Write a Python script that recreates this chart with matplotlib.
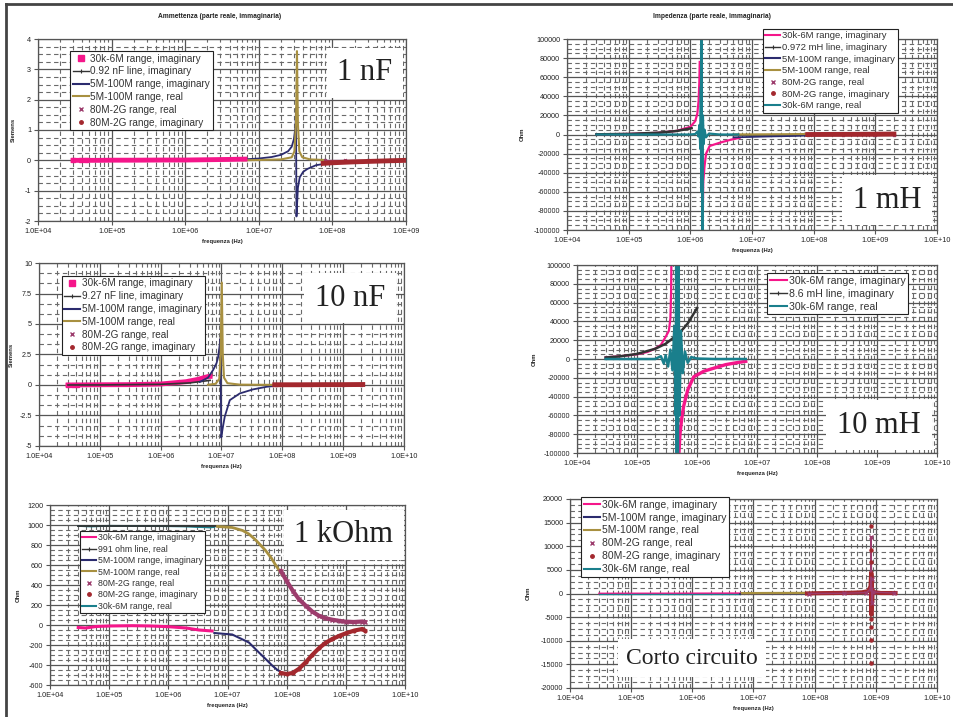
import matplotlib.pyplot as plt
from matplotlib.lines import Line2D
from matplotlib.ticker import FixedLocator, NullFormatter

# --- colori delle serie
PINK = '#F5168A'
NAVY = '#2B2B6E'
OLIVE = '#A89040'
DRED = '#A3282E'
PURPLE = '#9C3C6C'
TEAL = '#1A7F8C'
DARK = '#333333'

# --- etichette degli assi
xlab_9 = ['1.0E+04', '1.0E+05', '1.0E+06', '1.0E+07', '1.0E+08', '1.0E+09']
xlab_10 = xlab_9 + ['1.0E+10']
yt_1nF = [-2, -1, 0, 1, 2, 3, 4]
yt_10nF = [-5, -2.5, 0, 2.5, 5, 7.5, 10]
yl_10nF = ['-5', '-2.5', '0', '2.5', '5', '7.5', '10']
yt_mH = [-100000, -80000, -60000, -40000, -20000, 0, 20000, 40000, 60000, 80000, 100000]
yt_kohm = [-600, -400, -200, 0, 200, 400, 600, 800, 1000, 1200]
yt_short = [-20000, -15000, -10000, -5000, 0, 5000, 10000, 15000, 20000]

# --- 1 nF (Siemens)
f1_pink = [3e4, 3.8e4, 4.5e4, 5.5e4, 7e4, 1e5, 2e5, 5e5, 1e6, 2e6, 4e6, 6.5e6]
y1_pink = [0, 0, 0, 0, 0, 0.005, 0.005, 0.01, 0.01, 0.02, 0.03, 0.04]
f1_line = [3e4, 1e5, 1e6, 3e6, 6e6]
y1_line = [0.0002, 0.0006, 0.006, 0.017, 0.035]
f1_navy = [3.7e6, 6e6, 1e7, 1.5e7, 2e7, 2.5e7, 2.8e7, 3.0e7, 3.15e7, 3.2e7, 3.25e7, 3.4e7, 3.6e7, 4e7, 4.6e7, 6e7, 8e7]
y1_navy = [0.01, 0.03, 0.06, 0.11, 0.18, 0.3, 0.45, 0.7, 1.1, 1.7, -1.85, -0.9, -0.56, -0.38, -0.28, -0.16, -0.11]
f1_olive = [6e6, 1e7, 2e7, 2.8e7, 3.05e7, 3.2e7, 3.3e7, 3.4e7, 3.55e7, 3.9e7, 5e7, 8e7]
y1_olive = [0.0, 0.01, 0.03, 0.1, 0.3, 1.2, 3.6, 1.2, 0.3, 0.1, 0.03, 0.01]
f1_real = [8e7, 1.5e8, 3e8, 6e8, 1e9]
y1_real = [0.0, 0.0, 0.0, 0.0, 0.0]
f1_dred = [7.5e7, 1e8, 2e8, 5e8, 1e9, 2e9]
y1_dred = [-0.1, -0.08, -0.05, -0.02, 0.0, 0.01]

# --- 1 mH (Ohm)
f2_pink_a = [3e4, 1e5, 3e5, 6e5, 1e6, 1.2e6, 1.3e6, 1.36e6, 1.4e6, 1.42e6]
y2_pink_a = [200, 600, 1800, 3800, 8000, 14000, 22000, 35000, 55000, 76000]
f2_pink_b = [1.57e6, 1.62e6, 1.7e6, 1.8e6, 2.06e6, 3e6, 4.5e6, 6.3e6]
y2_pink_b = [-110000, -50000, -33000, -20000, -12000, -8600, -5500, -3500]
f2_line = [3e4, 1e5, 3e5, 6e5, 1.05e6]
y2_line = [180, 610, 1830, 3660, 6600]
f2_teal = [3e4, 1e6, 1.2e6, 1.3e6, 1.35e6, 1.4e6, 1.45e6, 1.48e6, 1.5e6, 1.52e6, 1.55e6, 1.57e6, 1.6e6, 1.65e6, 1.7e6, 1.8e6, 2e6, 3e6, 6e6]
y2_teal = [0, 0, 500, 3000, -2000, 10000, -15000, 50000, -60000, 110000, -50000, -110000, 20000, -10000, 5000, -3000, 1000, 0, 0]
f2_navy = [5e6, 1e7, 2e7, 5e7, 8e7]
y2_navy = [-3000, -2500, -2000, -1500, -1000]
f2_olive = [5e6, 1e7, 3e7, 8e7]
y2_olive = [100, 150, 300, 500]
f2_real = [8e7, 3e8, 1e9, 2e9]
y2_real = [0, 0, 0, 0]
f2_dred = [8e7, 2e8, 5e8, 1e9, 2e9]
y2_dred = [0, 100, 200, 300, 500]

# --- 10 nF (Siemens)
f3_pink = [3e4, 3.6e4, 4.2e4, 5e4, 1e5, 3e5, 1e6, 2.6e6, 4e6, 6e6, 6.5e6]
y3_pink = [0, 0, 0, 0.01, 0.02, 0.03, 0.08, 0.27, 0.45, 0.69, 0.7]
f3_line = [3e4, 1e5, 1e6, 3e6, 6.5e6]
y3_line = [0.002, 0.006, 0.058, 0.17, 0.38]
f3_navy = [4.4e6, 6e6, 7.3e6, 8.3e6, 8.8e6, 9.2e6, 9.6e6, 9.9e6, 1.05e7, 1.13e7, 1.37e7, 2e7, 3.3e7, 5.6e7, 9e7]
y3_navy = [0.25, 0.6, 1.24, 1.8, 2.3, 3.0, 3.8, -4.3, -3.5, -2.6, -1.24, -0.69, -0.36, -0.14, -0.05]
f3_olive = [6e6, 8e6, 9.2e6, 9.7e6, 1.01e7, 1.05e7, 1.1e7, 1.25e7, 2e7, 8e7]
y3_olive = [0.02, 0.1, 0.5, 2.5, 8.4, 2.5, 0.6, 0.15, 0.03, 0.01]
f3_real = [8e7, 3e8, 1e9, 2e9]
y3_real = [0, 0, 0, 0]
f3_dred = [7.5e7, 2e8, 5e8, 1e9, 2.1e9]
y3_dred = [0.02, 0.02, 0.03, 0.03, 0.04]

# --- 10 mH (Ohm)
f4_pink_a = [3e4, 5e4, 1e5, 1.5e5, 2e5, 2.5e5, 3e5, 3.4e5, 3.6e5, 3.7e5, 3.75e5]
y4_pink_a = [1800, 2800, 5000, 7500, 11000, 15000, 23500, 30000, 43000, 70000, 110000]
f4_pink_b = [4.9e5, 5.2e5, 5.6e5, 6e5, 7e5, 8.8e5, 1.3e6, 1.9e6, 3e6, 4.5e6, 6.5e6]
y4_pink_b = [-110000, -80000, -62000, -50000, -33000, -19000, -13000, -9800, -6000, -4000, -2500]
f4_line = [3e4, 5e4, 1e5, 2e5, 3e5, 5e5, 7e5, 1e6]
y4_line = [1600, 2700, 5400, 10800, 16200, 27000, 37800, 54000]
f4_teal = [3e4, 2e5, 2.5e5, 2.8e5, 3e5, 3.3e5, 3.6e5, 3.9e5, 4.2e5, 4.4e5, 4.5e5, 4.6e5, 4.7e5, 4.8e5,
           4.9e5, 5.1e5, 5.4e5, 5.8e5, 6.3e5, 7e5, 8e5, 1e6, 2e6, 6.5e6]
y4_teal = [0, 0, 3000, -5000, 4000, -8000, 10000, -12000, 35000, -60000, 120000, -120000, 120000, -120000,
           120000, -60000, 30000, -15000, 8000, -4000, 2000, 500, 0, 0]

# --- 1 kOhm (Ohm)
f5_pink = [3e4, 4e4, 6e4, 1e5, 2.5e5, 5e5, 1e6, 2e6, 3.3e6, 5.5e6]
y5_pink = [-25, -30, -15, -10, -7, -10, -17, -30, -50, -60]
f5_line = [3e4, 6.5e6]
y5_line = [991, 991]
f5_navy = [6e6, 1.2e7, 2.3e7, 3.4e7, 4.5e7, 5.8e7, 7e7, 8.6e7, 1e8]
y5_navy = [-80, -95, -175, -275, -345, -410, -450, -480, -490]
f5_olive = [6.8e6, 1.2e7, 1.8e7, 2.3e7, 3e7, 4.4e7, 5.5e7, 6.5e7, 7.5e7, 8.5e7]
y5_olive = [985, 975, 945, 910, 850, 745, 670, 600, 545, 500]
f5_real = [8e7, 1e8, 1.26e8, 1.6e8, 2.1e8, 2.7e8, 3.5e8, 4.5e8, 5.9e8, 8e8, 1e9, 1.4e9, 1.9e9, 2.1e9]
y5_real = [540, 440, 345, 260, 193, 135, 93, 68, 53, 40, 33, 30, 35, 30]
f5_dred = [8e7, 1e8, 1.26e8, 1.6e8, 2.1e8, 2.7e8, 3.5e8, 4.5e8, 5.9e8, 8e8, 1e9, 1.4e9, 1.9e9, 2.1e9]
y5_dred = [-480, -490, -480, -440, -373, -300, -233, -180, -140, -105, -83, -55, -40, -55]
f5_teal = [3e4, 5e4, 1e5, 3e5, 1e6, 2e6, 3e6, 4e6, 5e6, 6e6]
y5_teal = [990, 985, 992, 990, 988, 985, 980, 978, 975, 980]

# --- Corto circuito (Ohm)
f6_pink = [3e4, 1e6, 6e6]
y6_pink = [0, 20, 50]
f6_navy = [6e6, 2e7, 8e7]
y6_navy = [0, 0, 0]
f6_olive = [6.5e6, 2e7, 8e7]
y6_olive = [50, 80, 100]
f6_real = [8e7, 3e8, 7e8, 8.2e8, 8.4e8, 8.5e8, 8.6e8, 9e8, 2e9]
y6_real = [0, 50, 200, 1000, 12000, 3000, -2000, 300, 100]
f6_dred = [7.5e7, 1e8, 2e8, 4e8, 6e8, 7.5e8, 8.2e8, 8.4e8, 8.45e8, 8.5e8, 8.55e8, 8.6e8, 8.7e8, 8.8e8, 9.2e8, 1.2e9, 2.1e9]
y6_dred = [0, 50, 100, 150, 250, 500, 1500, 4500, -4500, 3500, -3000, 2000, -1500, 800, 300, 100, 100]
f6_dots = [8.45e8, 8.45e8, 8.45e8, 8.45e8, 8.45e8, 8.45e8, 8.45e8, 8.45e8]
y6_dots = [14300, 9200, 6600, 4200, -5400, -7000, -9800, -14700]
f6_teal = [3e4, 1e6, 6e6]
y6_teal = [0, 0, 0]

W, H = 954, 717
plt.rcParams['font.family'] = ['Liberation Sans', 'DejaVu Sans']
fig = plt.figure(figsize=(W / 100, H / 100), dpi=100)


def pax(l, t, r, b):
    return fig.add_axes([l / W, 1 - b / H, (r - l) / W, (b - t) / H])


def setup(ax, box, xlabels, yticks, ylabels, ylabel, ylab_x, sub=4):
    l, t, r, b = box
    n = len(xlabels)
    dec = [10.0 ** (4 + i) for i in range(n)]
    ax.set_xscale('log')
    ax.set_xlim(dec[0], dec[-1])
    ax.set_ylim(yticks[0], yticks[-1])
    ax.xaxis.set_major_locator(FixedLocator(dec))
    ax.set_xticklabels(xlabels)
    ax.xaxis.set_minor_locator(FixedLocator([d * k for d in dec[:-1] for k in range(2, 10)]))
    ax.xaxis.set_minor_formatter(NullFormatter())
    ax.set_yticks(yticks)
    ax.set_yticklabels(ylabels if ylabels else [str(v) for v in yticks])
    step = (yticks[1] - yticks[0]) / sub
    ax.yaxis.set_minor_locator(FixedLocator([yticks[0] + step * i for i in range(sub * (len(yticks) - 1))]))
    ax.grid(which='major', color='#555555', lw=0.9)
    ax.grid(which='minor', color='#6a6a6a', lw=0.8, ls=(0, (4, 3)))
    ax.set_axisbelow(True)
    for s in ax.spines.values():
        s.set_color('#555555')
        s.set_linewidth(0.9)
    ax.tick_params(which='major', direction='out', length=3, color='#555555', labelsize=5.2, pad=2, labelcolor='#222222')
    ax.tick_params(which='minor', length=0)
    ax.set_xlabel('frequenza (Hz)', fontsize=4.2, fontweight='bold', labelpad=3, color='#222222')
    ax.set_ylabel(ylabel, fontsize=4.2, fontweight='bold', color='#222222')
    ax.yaxis.set_label_coords(-(l - ylab_x) / (r - l), 0.5)


def mark_text(x, y, s, size=22):
    fig.text(x / W, 1 - y / H, s, fontsize=size, family=['Liberation Serif', 'DejaVu Serif'],
             ha='center', va='center', color='#222222', zorder=5,
             bbox=dict(boxstyle='square,pad=0.35', fc='white', ec='none'))


# legend handles
def h_pink_sq():
    return Line2D([], [], color=PINK, marker='s', ms=4, ls='none')


def h_line(c):
    return Line2D([], [], color=c, lw=1.5)


def h_dark():
    return Line2D([], [], color=DARK, lw=1, marker='+', ms=3, mew=0.8)


def h_x():
    return Line2D([], [], color=PURPLE, marker='x', ms=3, mew=1, ls='none')


def h_dot():
    return Line2D([], [], color=DRED, marker='o', ms=2.5, ls='none')


def legend(ax, handles, labels, l, t, size):
    lg = ax.legend(handles, labels, loc='upper left', bbox_to_anchor=(l / W, 1 - t / H),
                   bbox_transform=fig.transFigure, fontsize=size, frameon=True, fancybox=False,
                   edgecolor='#222222', framealpha=1, borderpad=0.25, labelspacing=0.28,
                   handlelength=1.6, handletextpad=0.2, borderaxespad=0)
    lg.get_frame().set_linewidth(0.8)
    lg.set_zorder(10)
    for txt in lg.get_texts():
        txt.set_color('#333333')


# ---------- pannello 1: 1 nF
b1 = (38, 39, 406, 221)
ax1 = pax(*b1)
setup(ax1, b1, xlab_9, yt_1nF, None, 'Siemens', 16)
ax1.plot(f1_line, y1_line, color=DARK, lw=1.2)
ax1.plot(f1_navy, y1_navy, color=NAVY, lw=1.3)
ax1.plot(f1_olive, y1_olive, color=OLIVE, lw=1.5)
ax1.plot(f1_pink, y1_pink, color=PINK, lw=3.5, marker='s', ms=3.5, markevery=[0, 1, 2])
ax1.plot(f1_real, y1_real, color=PURPLE, lw=1, marker='x', ms=2)
ax1.plot(f1_dred, y1_dred, color=DRED, lw=3.5)
fig.text(220 / W, 1 - 17 / H, 'Ammettenza (parte reale, immaginaria)', fontsize=4.8, fontweight='bold',
         ha='center', va='center', color='#222222')
legend(ax1, [h_pink_sq(), h_dark(), h_line(NAVY), h_line(OLIVE), h_x(), h_dot()],
       ['30k-6M range, imaginary', '0.92 nF line, imaginary', '5M-100M range, imaginary',
        '5M-100M range, real', '80M-2G range, real', '80M-2G range, imaginary'], 70, 51, 7.2)
mark_text(365, 73, '1 nF')

# ---------- pannello 2: 1 mH
b2 = (567, 39, 937, 230)
ax2 = pax(*b2)
setup(ax2, b2, xlab_10, yt_mH, None, 'Ohm', 525)
ax2.plot(f2_pink_a, y2_pink_a, color=PINK, lw=1.6)
ax2.plot(f2_pink_b, y2_pink_b, color=PINK, lw=1.6)
ax2.plot(f2_line, y2_line, color=DARK, lw=1.8)
ax2.plot(f2_navy, y2_navy, color=NAVY, lw=1.3)
ax2.plot(f2_olive, y2_olive, color=OLIVE, lw=1.5)
ax2.plot(f2_real, y2_real, color=PURPLE, lw=1, marker='x', ms=2)
ax2.plot(f2_dred, y2_dred, color=DRED, lw=3.5)
ax2.plot(f2_teal, y2_teal, color=TEAL, lw=1.6)
fig.text(712 / W, 1 - 16 / H, 'Impedenza (parte reale, immaginaria)', fontsize=4.8, fontweight='bold',
         ha='center', va='center', color='#222222')
legend(ax2, [h_line(PINK), h_dark(), h_line(NAVY), h_line(OLIVE), h_x(), h_dot(), h_line(TEAL)],
       ['30k-6M range, imaginary', '0.972 mH line, imaginary', '5M-100M range, imaginary',
        '5M-100M range, real', '80M-2G range, real', '80M-2G range, imaginary', '30k-6M range, real'],
       763, 29, 6.8)
mark_text(887, 200, '1 mH')

# ---------- pannello 3: 10 nF
b3 = (39, 263, 404, 446)
ax3 = pax(*b3)
setup(ax3, b3, xlab_10, yt_10nF, yl_10nF, 'Siemens', 14, sub=3)
ax3.plot(f3_pink, y3_pink, color=PINK, lw=3.5, marker='s', ms=3.5, markevery=[0, 1, 2])
ax3.plot(f3_line, y3_line, color=DARK, lw=1.2)
ax3.plot(f3_navy, y3_navy, color=NAVY, lw=1.3)
ax3.plot(f3_olive, y3_olive, color=OLIVE, lw=1.5)
ax3.plot(f3_real, y3_real, color=PURPLE, lw=1, marker='x', ms=2)
ax3.plot(f3_dred, y3_dred, color=DRED, lw=3.5)
legend(ax3, [h_pink_sq(), h_dark(), h_line(NAVY), h_line(OLIVE), h_x(), h_dot()],
       ['30k-6M range, imaginary', '9.27 nF line, imaginary', '5M-100M range, imaginary',
        '5M-100M range, real', '80M-2G range, real', '80M-2G range, imaginary'], 62, 276, 7.2)
mark_text(350, 298, '10 nF')

# ---------- pannello 4: 10 mH
b4 = (577, 265, 937, 453)
ax4 = pax(*b4)
setup(ax4, b4, xlab_10, yt_mH, None, 'Ohm', 537)
ax4.plot(f4_pink_a, y4_pink_a, color=PINK, lw=1.6)
ax4.plot(f4_pink_b, y4_pink_b, color=PINK, lw=2.4)
ax4.plot(f4_line, y4_line, color=DARK, lw=1.8)
ax4.plot(f4_teal, y4_teal, color=TEAL, lw=1.8)
legend(ax4, [h_line(PINK), h_dark(), h_line(TEAL)],
       ['30k-6M range, imaginary', '8.6 mH line, imaginary', '30k-6M range, real'], 767, 273, 7.6)
mark_text(879, 425, '10 mH')

# ---------- pannello 5: 1 kOhm
b5 = (50, 505, 405, 685)
ax5 = pax(*b5)
setup(ax5, b5, xlab_10, yt_kohm, None, 'Ohm', 21)
ax5.plot(f5_pink, y5_pink, color=PINK, lw=2.2)
ax5.plot(f5_teal, y5_teal, color=TEAL, lw=1.3)
ax5.plot(f5_line, y5_line, color=DARK, lw=1.3)
ax5.plot(f5_navy, y5_navy, color=NAVY, lw=1.5)
ax5.plot(f5_olive, y5_olive, color=OLIVE, lw=2)
ax5.plot(f5_real, y5_real, color=PURPLE, lw=3, marker='x', ms=2.5)
ax5.plot(f5_dred, y5_dred, color=DRED, lw=3, marker='o', ms=2)
legend(ax5, [h_line(PINK), h_dark(), h_line(NAVY), h_line(OLIVE), h_x(), h_dot(), h_line(TEAL)],
       ['30k-6M range, imaginary', '991 ohm line, real', '5M-100M range, imaginary',
        '5M-100M range, real', '80M-2G range, real', '80M-2G range, imaginary', '30k-6M range, real'],
       80, 531, 6.3)
mark_text(344, 535, '1 kOhm')

# ---------- pannello 6: corto circuito
b6 = (570, 499, 937, 688)
ax6 = pax(*b6)
setup(ax6, b6, xlab_10, yt_short, None, 'Ohm', 531)
ax6.plot(f6_pink, y6_pink, color=PINK, lw=1.3)
ax6.plot(f6_teal, y6_teal, color=TEAL, lw=1.0)
ax6.plot(f6_navy, y6_navy, color=NAVY, lw=1.3)
ax6.plot(f6_olive, y6_olive, color=OLIVE, lw=1.8)
ax6.plot(f6_dred, y6_dred, color=DRED, lw=3)
ax6.plot(f6_real, y6_real, color=PURPLE, lw=1, marker='x', ms=2.5)
ax6.plot(f6_dots, y6_dots, color=DRED, ls='none', marker='o', ms=2.2)
legend(ax6, [h_line(PINK), h_line(NAVY), h_line(OLIVE), h_x(), h_dot(), h_line(TEAL)],
       ['30k-6M range, imaginary', '5M-100M range, imaginary', '5M-100M range, real',
        '80M-2G range, real', '80M-2G range, imaginary', '30k-6M range, real'], 581, 497, 7.5)
mark_text(692, 658, 'Corto circuito', size=17)

# cornice della pagina
fig.add_artist(Line2D([6 / W, 6 / W], [0, 1 - 4 / H], color='#444444', lw=2, transform=fig.transFigure))
fig.add_artist(Line2D([6 / W, 1], [1 - 4 / H, 1 - 4 / H], color='#444444', lw=2, transform=fig.transFigure))

fig.savefig('out.png', dpi=100)
